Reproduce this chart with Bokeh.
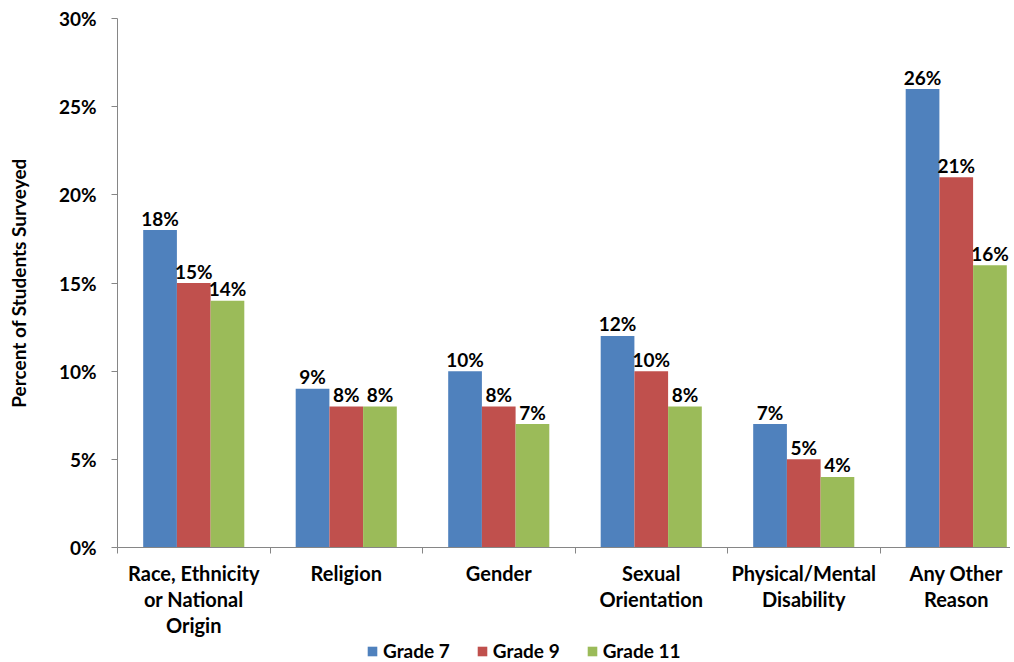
from bokeh.plotting import figure
from bokeh.layouts import column
from bokeh.models import (ColumnDataSource, FixedTicker, Range1d, Legend, LegendItem,
                          CustomJSTickFormatter)
from bokeh.transform import dodge
from bokeh.core.properties import value
from bokeh.embed import file_html
from bokeh.resources import INLINE

categories = ["Race, Ethnicity\nor National\nOrigin", "Religion", "Gender",
              "Sexual\nOrientation", "Physical/Mental\nDisability", "Any Other\nReason"]
series_names = ["Grade 7", "Grade 9", "Grade 11"]
grade7 = [18, 9, 10, 12, 7, 26]
grade9 = [15, 8, 8, 10, 5, 21]
grade11 = [14, 8, 7, 8, 4, 16]
y_ticks = [0, 5, 10, 15, 20, 25, 30]

colors = ["#4F81BD", "#C0504D", "#9BBB59"]
FONT = "Lato"

xpos = [i + 0.5 for i in range(len(categories))]
src = ColumnDataSource(dict(
    x=xpos, g7=grade7, g9=grade9, g11=grade11,
    l7=[f"{v}%" for v in grade7], l9=[f"{v}%" for v in grade9], l11=[f"{v}%" for v in grade11],
))

W = 1010
LEFT = 117
GROUP_PX = 152.5
p = figure(width=W, height=640, output_backend="svg", toolbar_location=None,
           x_range=Range1d(0, (W - LEFT) / GROUP_PX), y_range=Range1d(0, 30),
           min_border_left=LEFT, min_border_right=0, min_border_top=18, min_border_bottom=0)
p.outline_line_color = None
p.grid.grid_line_color = None

bw = 0.221
keys = [("g7", "l7"), ("g9", "l9"), ("g11", "l11")]
offsets = [-bw, 0, bw]
for (k, lk), off, c in zip(keys, offsets, colors):
    p.vbar(x=dodge("x", off), top=k, width=bw, bottom=0, source=src,
           fill_color=c, line_color=None)
    p.text(x=dodge("x", off), y=k, text=lk, source=src, text_align="center",
           text_baseline="alphabetic", y_offset=-12, text_font=value(FONT),
           text_font_style="bold", text_font_size="19px", text_color="#000000")

# axes
p.yaxis.ticker = FixedTicker(ticks=y_ticks)
p.yaxis.formatter = CustomJSTickFormatter(code="return tick + '%';")
p.yaxis.axis_line_color = "#868686"
p.yaxis.major_tick_line_color = "#868686"
p.yaxis.major_tick_out = 6
p.yaxis.major_tick_in = 0
p.yaxis.minor_tick_line_color = None
p.yaxis.major_label_text_font = FONT
p.yaxis.major_label_text_font_style = "bold"
p.yaxis.major_label_text_font_size = "19px"
p.yaxis.major_label_text_color = "#000000"
p.yaxis.major_label_standoff = 15
p.yaxis.axis_label = "Percent of Students Surveyed"
p.yaxis.axis_label_text_font = FONT
p.yaxis.axis_label_text_font_style = "bold"
p.yaxis.axis_label_text_font_size = "19px"
p.yaxis.axis_label_text_color = "#000000"
p.yaxis.axis_label_standoff = 26

p.xaxis.ticker = FixedTicker(ticks=xpos, minor_ticks=list(range(7)))
p.xaxis.major_label_overrides = {x: c for x, c in zip(xpos, categories)}
p.xaxis.axis_line_color = "#868686"
p.xaxis.major_tick_line_color = None
p.xaxis.major_tick_out = 0
p.xaxis.major_tick_in = 0
p.xaxis.minor_tick_line_color = "#868686"
p.xaxis.minor_tick_out = 6
p.xaxis.minor_tick_in = 0
p.xaxis.major_label_text_font = FONT
p.xaxis.major_label_text_font_style = "bold"
p.xaxis.major_label_text_font_size = "20px"
p.xaxis.major_label_text_color = "#000000"
p.xaxis.major_label_text_line_height = 1.1
p.xaxis.major_label_standoff = 7

# legend strip below the chart; proxy bars use the series data but lie outside its view
lp = figure(width=W, height=22, output_backend="svg", toolbar_location=None,
            x_axis_location=None, y_axis_location=None,
            x_range=Range1d(0, 1), y_range=Range1d(1000, 1001),
            min_border_left=0, min_border_right=0, min_border_top=0, min_border_bottom=0)
lp.outline_line_color = None
lp.grid.grid_line_color = None
proxies = [lp.vbar(x=xpos, top=vals, width=0.1, fill_color=c, line_color=None)
           for vals, c in zip([grade7, grade9, grade11], colors)]
legend = Legend(items=[LegendItem(label=n, renderers=[r]) for n, r in zip(series_names, proxies)],
                orientation="horizontal", location=(366 - LEFT, 0),
                border_line_color=None, background_fill_alpha=0,
                padding=0, margin=0, spacing=26, label_standoff=5,
                glyph_width=12, glyph_height=12, label_height=22,
                label_text_font=FONT, label_text_font_style="bold",
                label_text_font_size="19px", label_text_color="#000000")
lp.add_layout(legend, "center")

layout = column(p, lp, spacing=0)
open("out.html", "w").write(file_html(layout, INLINE))
